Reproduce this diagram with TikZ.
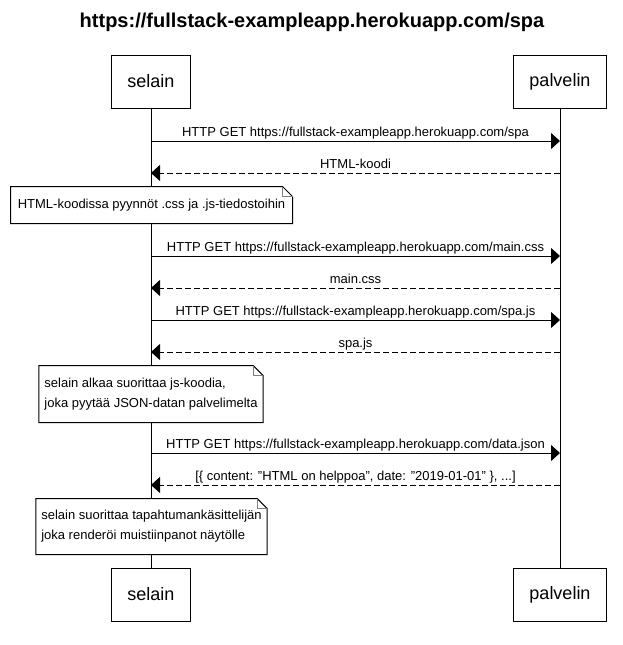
\documentclass[tikz,border=0pt]{standalone}
\usepackage{fontspec}
\setmainfont{Liberation Sans}
\usetikzlibrary{arrows.meta}

\begin{document}
\begin{tikzpicture}[x=1pt,y=-1pt,line width=1pt,font=\fontsize{13}{20}\selectfont]
    \tikzstyle{actor}=[draw=black,fill=white,minimum height=53pt,inner xsep=16pt,font=\fontsize{18}{20}\selectfont]
    \tikzstyle{note}=[fill=white,align=left,inner xsep=5pt]
    \tikzstyle{call}=[-{Triangle[length=9pt,width=16pt]}]
    \tikzstyle{reply}=[call,dash pattern=on 6pt off 3pt]
    \tikzstyle{lbl}=[midway,anchor=base,yshift=5pt,inner sep=0pt]
    \useasboundingbox (0,0) rectangle (622,645);

    \node[font=\bfseries\fontsize{20}{22}\selectfont] (title) at (312,22) {https://fullstack-exampleapp.herokuapp.com/spa};

    \node[actor] (S-top) at (151,81.5) {selain};
    \node[actor] (P-top) at (560,81.5) {palvelin};
    \node[actor] (S-bot) at (151,594.5) {selain};
    \node[actor] (P-bot) at (560,594.5) {palvelin};
    \draw (S-top) -- (S-bot);
    \draw (P-top) -- (P-bot);

    \foreach \n/\y in {1/141, 2/173, 3/256, 4/288, 5/320, 6/352, 7/453, 8/485}
        {\coordinate (S-\n) at (151,\y); \coordinate (P-\n) at (560,\y);}

    \draw[call] (S-1) -- (P-1) node[lbl] {HTTP GET https://fullstack-exampleapp.herokuapp.com/spa};
    \draw[reply] (P-2) -- (S-2) node[lbl] {HTML-koodi};
    \draw[call] (S-3) -- (P-3) node[lbl] {HTTP GET https://fullstack-exampleapp.herokuapp.com/main.css};
    \draw[reply] (P-4) -- (S-4) node[lbl] {main.css};
    \draw[call] (S-5) -- (P-5) node[lbl] {HTTP GET https://fullstack-exampleapp.herokuapp.com/spa.js};
    \draw[reply] (P-6) -- (S-6) node[lbl] {spa.js};
    \draw[call] (S-7) -- (P-7) node[lbl] {HTTP GET https://fullstack-exampleapp.herokuapp.com/data.json};
    \draw[reply] (P-8) -- (S-8) node[lbl] {[\{ content: \symbol{34}HTML on helppoa\symbol{34}, date: \symbol{34}2019-01-01\symbol{34} \}, ...]};

    \node[note,minimum height=36pt,minimum width=281pt] (N-1) at (151.5,205) {HTML-koodissa pyynnöt .css ja .js-tiedostoihin};
    \node[note,minimum height=56pt] (N-2) at (151,394) {selain alkaa suorittaa js-koodia,\\joka pyytää JSON-datan palvelimelta};
    \node[note,minimum height=55pt] (N-3) at (151.5,526.5) {selain suorittaa tapahtumankäsittelijän\\joka renderöi muistiinpanot näytölle};

    \foreach \n in {1,2,3}
        {\draw (N-\n.south west) -- (N-\n.north west) -- ([xshift=-10pt]N-\n.north east)
            -- ([yshift=-10pt]N-\n.north east) -- (N-\n.south east) -- cycle;
        \draw[line width=0.6pt,gray] ([xshift=-10pt]N-\n.north east) -- ([xshift=-10pt,yshift=-10pt]N-\n.north east)
            -- ([yshift=-10pt]N-\n.north east);}
\end{tikzpicture}
\end{document}
